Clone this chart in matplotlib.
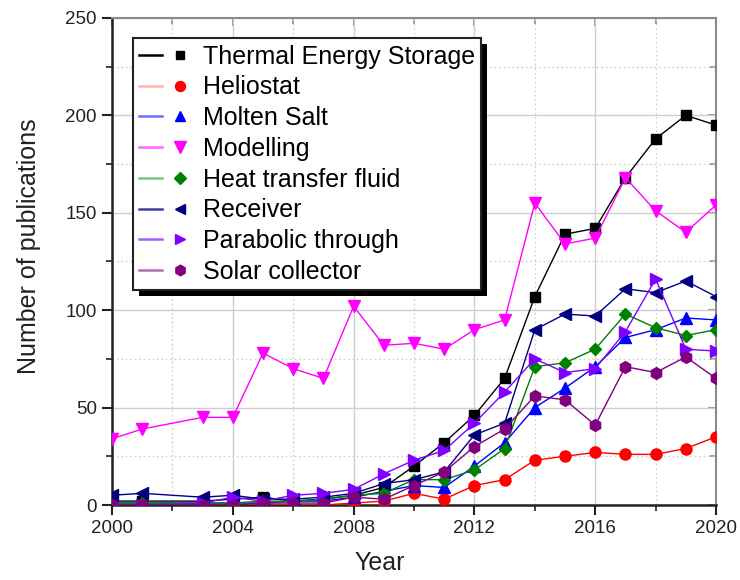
import matplotlib
matplotlib.use("Agg")
import matplotlib.pyplot as plt
from matplotlib.lines import Line2D
from matplotlib.patches import Rectangle
from matplotlib.transforms import IdentityTransform
from matplotlib.legend_handler import HandlerTuple
from matplotlib.ticker import MultipleLocator

plt.rcParams['font.family'] = ['Liberation Sans', 'DejaVu Sans']

years = [2000, 2001, 2003, 2004, 2005, 2006, 2007, 2008, 2009, 2010,
         2011, 2012, 2013, 2014, 2015, 2016, 2017, 2018, 2019, 2020]

thermal_storage = [2, 2, 2, 3, 4, 2, 3, 5, 9, 20, 32, 46, 65, 107, 139, 142, 168, 188, 200, 195]
heliostat = [0, 0, 0, 0, 0, 0, 0, 1, 2, 6, 3, 10, 13, 23, 25, 27, 26, 26, 29, 35]
molten_salt = [1, 1, 1, 1, 1, 2, 2, 4, 7, 10, 9, 20, 32, 50, 60, 71, 86, 90, 96, 95]
modelling = [34, 39, 45, 45, 78, 70, 65, 102, 82, 83, 80, 90, 95, 155, 134, 137, 168, 151, 140, 154]
heat_transfer_fluid = [1, 1, 1, 1, 2, 2, 3, 5, 6, 13, 13, 18, 29, 71, 73, 80, 98, 91, 87, 90]
receiver = [5, 6, 4, 5, 3, 3, 4, 6, 11, 13, 17, 36, 42, 90, 98, 97, 111, 109, 115, 107]
parabolic_through = [0, 0, 1, 4, 2, 5, 6, 8, 16, 23, 28, 42, 58, 75, 68, 70, 89, 116, 80, 79]
solar_collector = [0, 0, 0, 0, 1, 1, 1, 4, 3, 10, 17, 30, 39, 56, 54, 41, 71, 68, 76, 65]

labels = ["Thermal Energy Storage", "Heliostat", "Molten Salt", "Modelling",
          "Heat transfer fluid", "Receiver", "Parabolic through", "Solar collector"]
series = [thermal_storage, heliostat, molten_salt, modelling,
          heat_transfer_fluid, receiver, parabolic_through, solar_collector]
colors = ["#000000", "#ff0000", "#0000ff", "#ff00ff",
          "#008000", "#000080", "#8000ff", "#800080"]
legend_line_colors = ["#000000", "#ffb0b0", "#6f6fff", "#ff66ff",
                      "#80c080", "#4040a0", "#a060ff", "#b070b0"]
markers = ["s", "o", "^", "v", "D", "<", ">", "h"]
sizes = [7, 8, 8, 9, 6.5, 8, 8, 8.5]

fig = plt.figure(figsize=(7.4, 5.8), dpi=100)
ax = fig.add_axes([0.1514, 0.1293, 0.8162, 0.8397])

for vals, c, m, ms in zip(series, colors, markers, sizes):
    ax.plot(years, vals, color=c, lw=1.0, marker=m, markersize=ms,
            markeredgecolor=c, markerfacecolor=c, zorder=3)

ax.set_xlim(2000, 2020)
ax.set_ylim(0, 250)
ax.xaxis.set_major_locator(MultipleLocator(4))
ax.xaxis.set_minor_locator(MultipleLocator(2))
ax.yaxis.set_major_locator(MultipleLocator(50))
ax.yaxis.set_minor_locator(MultipleLocator(25))

ax.grid(which='major', color='#cfcfcf', lw=1.0, ls='-', zorder=0)
ax.grid(which='minor', color='#cfcfcf', lw=1.0, ls=(0, (1.2, 2)), zorder=0)
ax.set_axisbelow(True)

for side in ('left', 'bottom'):
    ax.spines[side].set_color('#222222')
    ax.spines[side].set_linewidth(1.8)
for side in ('top', 'right'):
    ax.spines[side].set_color('#8a8a8a')
    ax.spines[side].set_linewidth(1.5)

ax.tick_params(which='major', direction='out', length=7, width=1.5,
               labelsize=13.5, colors='#222222', pad=4)
ax.tick_params(which='minor', direction='out', length=4, width=1.2, colors='#222222')
ax.tick_params(which='both', top=False, right=False)

# inward ticks on the top and right frame
ax_top = ax.secondary_xaxis('top')
ax_top.xaxis.set_major_locator(MultipleLocator(4))
ax_top.xaxis.set_minor_locator(MultipleLocator(2))
ax_top.tick_params(which='major', direction='in', length=6, width=1.3,
                   colors='#8a8a8a', labeltop=False)
ax_top.tick_params(which='minor', direction='in', length=4, width=1.2, colors='#8a8a8a')
ax_top.spines['top'].set_visible(False)
ax_right = ax.secondary_yaxis('right')
ax_right.yaxis.set_major_locator(MultipleLocator(50))
ax_right.yaxis.set_minor_locator(MultipleLocator(25))
ax_right.tick_params(which='major', direction='in', length=6, width=1.3,
                     colors='#8a8a8a', labelright=False)
ax_right.tick_params(which='minor', direction='in', length=4, width=1.2, colors='#8a8a8a')
ax_right.spines['right'].set_visible(False)

ax.set_xlabel("Year", fontsize=18, color='#222222')
ax.set_ylabel("Number of publications", fontsize=18, color='#222222')
ax.xaxis.set_label_coords(0.444, -0.095)
ax.yaxis.set_label_coords(-0.118, 0.532)

handles = []
for c, lc, m, ms in zip(colors, legend_line_colors, markers, sizes):
    line = Line2D([], [], color=lc, lw=1.8)
    mark = Line2D([], [], color=c, marker=m, markersize=ms * 0.9, ls='none')
    handles.append((line, mark))

leg = ax.legend(handles, labels, handler_map={tuple: HandlerTuple(ndivide=None)},
                loc='upper left', bbox_to_anchor=(0.034, 0.958),
                fontsize=18, frameon=True, fancybox=False, framealpha=1,
                edgecolor='#222222', handlelength=2.1, handletextpad=0.45,
                labelspacing=0.27, borderpad=0.25, borderaxespad=0)
leg.get_frame().set_linewidth(1.5)
leg.set_zorder(6)

# solid drop shadow under the legend box
fig.canvas.draw()
bb = leg.get_window_extent()
off = 6
shadow = Rectangle((bb.x0 + off, bb.y0 - off), bb.width, bb.height,
                   transform=IdentityTransform(), facecolor='black',
                   edgecolor='none', zorder=5.5, clip_on=False)
ax.add_patch(shadow)

fig.savefig("out.png", dpi=100)
